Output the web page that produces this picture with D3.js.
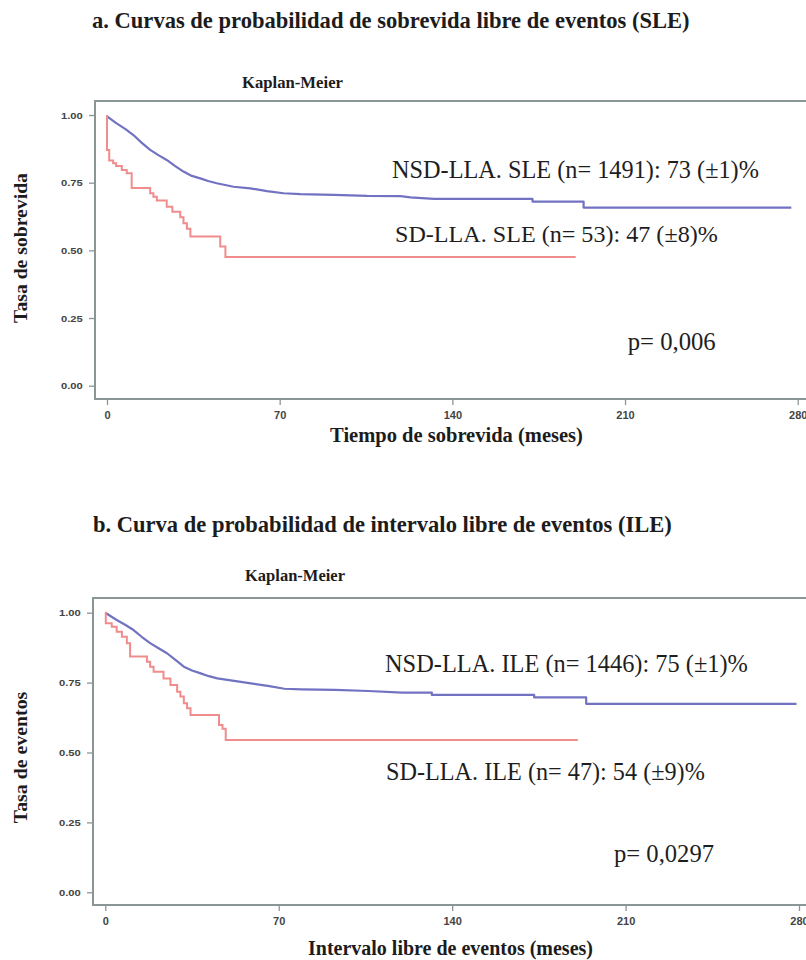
<!DOCTYPE html>
<html>
<head>
<meta charset="utf-8">
<script src="https://cdn.jsdelivr.net/npm/d3@7"></script>
<style>
  html, body { margin: 0; padding: 0; background: #fff; }
  svg { display: block; }
</style>
</head>
<body>
<svg id="chart" width="806" height="960"></svg>
<script>
// ---------------- DATA ----------------
const xTicks = [0, 70, 140, 210, 280];
const yTicks = [0, 0.25, 0.5, 0.75, 1.0];

// Panel a: SLE
const titleA = "a. Curvas de probabilidad de sobrevida libre de eventos (SLE)";
const yLabelA = "Tasa de sobrevida";
const xLabelA = "Tiempo de sobrevida (meses)";
const nsdA = [[0,0.995],[3.9,0.969],[7.5,0.948],[10.7,0.926],[14,0.898],[17.5,0.871],[21,0.851],[24.2,0.834],
  [27.5,0.812],[31,0.791],[34.4,0.775],[37.8,0.766],[41,0.756],[44.5,0.748],[51.3,0.735],[58.1,0.729],
  [64.8,0.719],[71.6,0.711],[78.4,0.708],[91.9,0.705],[105.5,0.701],[119,0.700],[123,0.696],
  [132.5,0.690],[172.5,0.690],[172.5,0.680],[193.2,0.680],[193.2,0.658],[277.4,0.658]];
const sdA = [[0,1.0],[0,0.871],[0.9,0.832],[2.5,0.822],[3.7,0.812],[6,0.797],[8,0.785],[10,0.73],
  [17.5,0.711],[18.8,0.698],[20.2,0.684],[24.2,0.661],[26.5,0.643],[29.7,0.622],[31,0.600],
  [32.4,0.580],[33.8,0.551],[45.9,0.514],[48,0.475],[190,0.475]];
const annotA = ["NSD-LLA. SLE (n= 1491): 73 (±1)%", "SD-LLA. SLE (n= 53): 47 (±8)%", "p= 0,006"];

// Panel b: ILE
const titleB = "b. Curva de probabilidad de intervalo libre de eventos (ILE)";
const yLabelB = "Tasa de eventos";
const xLabelB = "Intervalo libre de eventos (meses)";
const nsdB = [[0,1.0],[4.6,0.974],[8,0.957],[11.4,0.938],[14.8,0.913],[18.1,0.891],[21.5,0.873],[24.9,0.855],
  [28.3,0.831],[31.7,0.807],[35,0.793],[38.5,0.783],[41.8,0.773],[45.2,0.765],[52,0.756],[58.8,0.747],
  [65.6,0.738],[72.3,0.728],[79.1,0.726],[92.7,0.724],[106.2,0.720],[119.8,0.714],[131.8,0.714],
  [131.8,0.706],[173.1,0.706],[173.1,0.697],[194.1,0.697],[194.1,0.674],[279,0.674]];
const sdB = [[0,1.0],[0.2,0.962],[2.6,0.950],[4.6,0.932],[6.7,0.914],[8.7,0.891],[10,0.843],
  [16.8,0.825],[18.1,0.807],[19.5,0.789],[23.5,0.765],[26.3,0.741],[29,0.717],[30.3,0.700],
  [31.7,0.676],[33,0.658],[34.4,0.634],[45.9,0.598],[47.3,0.585],[48.6,0.545],[190.7,0.545]];
const annotB = ["NSD-LLA. ILE (n= 1446): 75 (±1)%", "SD-LLA. ILE (n= 47): 54 (±9)%", "p= 0,0297"];

const kmLabel = "Kaplan-Meier";

// ---------------- DRAW ----------------
const svg = d3.select("#chart");
const SERIF = "'Liberation Serif', 'DejaVu Serif', serif";
const SANS = "'Liberation Sans', Arial, sans-serif";
const FRAME = "#8a9696";
const BLUE = "#7272c2";
const RED = "#f08c8c";

// size the font so that the text spans the target width
function fitText(g, x, y, text, weight, target, anchor, size) {
  const t = g.append("text").attr("x", x).attr("y", y)
    .attr("font-family", SERIF).attr("font-weight", weight).attr("font-size", 20)
    .attr("fill", "#1c1c1c").attr("text-anchor", anchor || "start").text(text);
  const len = t.node().getComputedTextLength();
  t.attr("font-size", (20 * target / len * (size || 1)).toFixed(2));
  return t;
}

function panel(cfg) {
  const g = svg.append("g");
  const x = d3.scaleLinear().domain([0, 280]).range([cfg.x0, cfg.x280]);
  const y = d3.scaleLinear().domain([0, 1]).range([cfg.y0, cfg.y1]);

  fitText(g, cfg.title.x, cfg.title.y, cfg.title.text, "bold", cfg.title.w);
  fitText(g, cfg.km.x, cfg.km.y, kmLabel, "bold", cfg.km.w);

  // frame
  g.append("rect").attr("x", cfg.fx).attr("y", cfg.ft)
    .attr("width", 830 - cfg.fx).attr("height", cfg.fb - cfg.ft)
    .attr("fill", "none").attr("stroke", FRAME).attr("stroke-width", 2);

  // axes
  const yAxis = g.append("g").attr("transform", `translate(${cfg.fx - 1},0)`)
    .call(d3.axisLeft(y).tickValues(yTicks).tickFormat(d3.format(".2f")).tickSize(5).tickPadding(4));
  const xAxis = g.append("g").attr("transform", `translate(0,${cfg.fb + 1})`)
    .call(d3.axisBottom(x).tickValues(xTicks).tickFormat(d3.format("d")).tickSize(5).tickPadding(6));
  [yAxis, xAxis].forEach(a => {
    a.select(".domain").remove();
    a.selectAll(".tick line").attr("stroke", FRAME).attr("stroke-width", 1.3);
    a.selectAll(".tick text").attr("font-family", SANS).attr("font-weight", "bold")
      .attr("fill", "#444");
  });
  yAxis.selectAll(".tick text").attr("font-size", 9.5)
    .attr("transform", "scale(1.18,1)").attr("x", -10 / 1.18 - 1).attr("text-anchor", "end");
  xAxis.selectAll(".tick text").attr("font-size", 11);

  // axis labels
  fitText(g.append("g").attr("transform", `translate(${cfg.yl.x},${cfg.yl.cy}) rotate(-90)`),
    0, 0, cfg.yl.text, "bold", cfg.yl.w, "middle");
  fitText(g, cfg.xl.cx, cfg.xl.y, cfg.xl.text, "bold", cfg.xl.w, "middle");

  // curves
  const lineSmooth = d3.line().x(d => x(d[0])).y(d => y(d[1])).curve(d3.curveLinear);
  const lineStep = d3.line().x(d => x(d[0])).y(d => y(d[1])).curve(d3.curveStepAfter);
  g.append("path").attr("d", lineSmooth(cfg.nsd)).attr("fill", "none")
    .attr("stroke", BLUE).attr("stroke-width", 2.2).attr("stroke-linejoin", "round");
  g.append("path").attr("d", lineStep(cfg.sd)).attr("fill", "none")
    .attr("stroke", RED).attr("stroke-width", 2);

  // annotations
  cfg.ann.forEach((a, i) => {
    const t = fitText(g, a.x, a.y, cfg.annText[i], "normal", a.w);
    t.attr("fill", "#1e1e1e");
  });
}

panel({
  x0: 107, x280: 797.7, y0: 385.7, y1: 115,
  fx: 95, ft: 101, fb: 399,
  title: { text: titleA, x: 92, y: 28, w: 598 },
  km: { x: 242, y: 88, w: 101 },
  yl: { text: yLabelA, x: 27, cy: 248, w: 150 },
  xl: { text: xLabelA, cx: 456.5, y: 441.7, w: 253 },
  nsd: nsdA, sd: sdA, annText: annotA,
  ann: [{ x: 392, y: 178.3, w: 367 }, { x: 395, y: 241.7, w: 323 }, { x: 627.7, y: 350, w: 88 }]
});

panel({
  x0: 105.3, x280: 799, y0: 892.3, y1: 612.7,
  fx: 93, ft: 598, fb: 905,
  title: { text: titleB, x: 93, y: 531.7, w: 579 },
  km: { x: 245, y: 581, w: 100 },
  yl: { text: yLabelB, x: 27, cy: 757.5, w: 131.6 },
  xl: { text: xLabelB, cx: 450.5, y: 955, w: 285 },
  nsd: nsdB, sd: sdB, annText: annotB,
  ann: [{ x: 385, y: 671.7, w: 363 }, { x: 386, y: 780, w: 319 }, { x: 614, y: 861.7, w: 100 }]
});
</script>
</body>
</html>
